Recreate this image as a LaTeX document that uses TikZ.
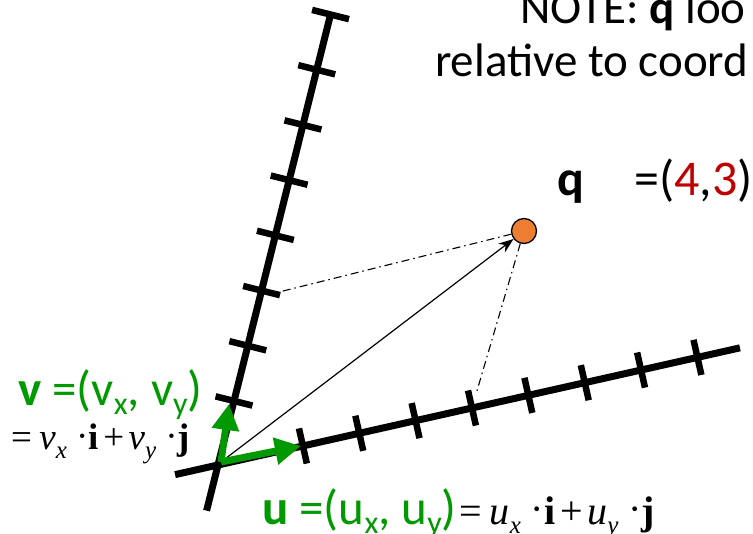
\documentclass[tikz,border=0pt]{standalone}
\usepackage{fontspec}
\setmainfont{Carlito}
\newfontfamily\tms{Liberation Serif}
\usetikzlibrary{arrows.meta}
\definecolor{pgreen}{RGB}{0,153,0}
\definecolor{pred}{RGB}{192,0,0}
\definecolor{porange}{RGB}{237,125,49}
\newcommand\gsub[1]{\raisebox{-0.18em}{\fontsize{32}{32}\selectfont #1}}
\newcommand\msub[1]{\raisebox{-0.22em}{\fontsize{25}{25}\selectfont\itshape #1}}
\newcommand\mdot{\hspace{0.25em}\raisebox{0.05em}{·}}
\newcommand\mplus{\hspace{0.12em}+\hspace{0.12em}}
\tikzset{
  axisline/.style={line width=7pt, black},
  tickline/.style={line width=6.5pt, black},
  garrow/.style={pgreen, line width=7pt, -{Triangle[length=26pt,width=26pt]}},
  thinarrow/.style={line width=1.2pt, -{Stealth[length=15pt,width=11pt]}},
  dashdot/.style={line width=1.1pt, dash pattern=on 8pt off 4pt on 1.5pt off 4pt},
  bigtxt/.style={inner sep=0, anchor=base west, font=\fontsize{47}{56}\selectfont},
  labtxt/.style={inner sep=0, anchor=base west, font=\fontsize{49}{58}\selectfont},
  mathtxt/.style={inner sep=0, anchor=base west, font=\tms\fontsize{40}{46}\selectfont},
  qpoint/.style={circle, fill=porange, draw=black, line width=1.3pt, minimum size=25pt, inner sep=0},
}
\begin{document}
\begin{tikzpicture}[x=1pt,y=-1pt]
\useasboundingbox (0,0) rectangle (753,534);
\clip (0,0) rectangle (753,534);
\coordinate (O) at (218,465);
\coordinate (gO) at (221,462);
% v axis
\begin{scope}[shift={(O)}, rotate=75.97]
  \coordinate (vbot) at (-47,0);
  \coordinate (vtop) at (464.3,0);
  \coordinate (vp) at (183,18);
  \draw[axisline] (vbot) -- (vtop);
  \foreach \t in {66,122.9,179.8,236.7,293.6,350.5,407.4,464.3}
    \draw[tickline] (\t,-19) -- (\t,19);
\end{scope}
% u axis
\begin{scope}[shift={(O)}, rotate=12.65]
  \coordinate (ubeg) at (-44,0);
  \coordinate (uend) at (535,0);
  \coordinate (up) at (268,-14);
  \draw[axisline] (ubeg) -- (uend);
  \foreach \t in {87,144.8,202.5,260.3,318.1,375.9,433.6,491.4}
    \draw[tickline] (\t,-18) -- (\t,18);
\end{scope}
% point q
\node[qpoint] (q) at (524,231) {};
\draw[thinarrow] (gO) -- (q);
\draw[dashdot] (q) -- (vp);
\draw[dashdot] (q) -- (up);
% basis vectors
\coordinate (vtip) at (229,404);
\coordinate (utip) at (301,446);
\draw[garrow] (gO) -- (vtip);
\draw[garrow] (gO) -- (utip);
% texts
\node[bigtxt] (note1) at (520,24) {NOTE: \textbf{q} loo};
\node[bigtxt] (note2) at (435,77) {relative to coord};
\node[labtxt, font=\fontsize{50}{58}\selectfont] (qlab) at (557,196) {\textbf{q}};
\node[labtxt, font=\fontsize{50}{58}\selectfont] (qval) at (634,196) {=(\textcolor{pred}{4},\textcolor{pred}{3})};
\node[labtxt, text=pgreen] (vlab) at (18,406) {\textbf{v} =(v\gsub{x}, v\gsub{y})};
\node[mathtxt, font=\tms\fontsize{37}{44}\selectfont] (vmath) at (11,450) {=\hspace{0.2em}\textit{v}\msub{x}\mdot\textbf{i}\mplus\textit{v}\msub{y}\mdot\textbf{j}};
\node[labtxt, text=pgreen] (ulab) at (262,525) {\textbf{u} =(u\gsub{x}, u\gsub{y})};
\node[mathtxt] (umath) at (459,525) {=\hspace{0.2em}\textit{u}\msub{x}\mdot\textbf{i}\mplus\textit{u}\msub{y}\mdot\textbf{j}};
\end{tikzpicture}
\end{document}
